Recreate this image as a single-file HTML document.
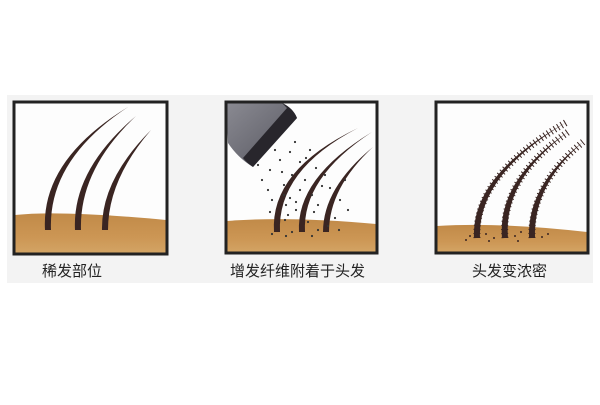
<!DOCTYPE html>
<html><head><meta charset="utf-8"><style>
body{margin:0;background:#fff;width:600px;height:400px;overflow:hidden}
</style></head><body>
<svg width="600" height="400" xmlns="http://www.w3.org/2000/svg">
<defs>
<linearGradient id="sk" x1="0" y1="0" x2="0" y2="1"><stop offset="0" stop-color="#c18a48"/><stop offset="0.6" stop-color="#cc9654"/><stop offset="1" stop-color="#d3a464"/></linearGradient>
<linearGradient id="can" x1="0" y1="0" x2="1" y2="1"><stop offset="0" stop-color="#8a8a92"/><stop offset="1" stop-color="#55555e"/></linearGradient>
</defs>
<rect x="7" y="95" width="586" height="188" fill="#f3f3f3"/>
<!-- panel 1 -->
<rect x="14" y="102" width="153" height="152" fill="#fdfdfd"/>
<path d="M15 215 Q60 210 166 220 L166 253 L15 253Z" fill="url(#sk)"/>
<g fill="#3a2522">
<path d="M45 230 Q41 160 128 107 Q48 160 51 230Z"/>
<path d="M75 230 Q72 170 136 116 Q79 170 81 230Z"/>
<path d="M102 230 Q101 180 151 130 Q108 180 108 230Z"/>
</g>
<rect x="14" y="102" width="153" height="152" fill="none" stroke="#222" stroke-width="3"/>
<!-- panel 2 -->
<rect x="226" y="102" width="151" height="151" fill="#fdfdfd"/>
<path d="M227 221 Q290 216 376 224 L376 252 L227 252Z" fill="url(#sk)"/>
<path d="M226 103 L282 103 Q293 108 297 118 L253 167 Q238 158 228 143Z" fill="url(#can)"/>
<path d="M282 103 Q293 108 297 118 L253 167 Q247 163 243 158 L287 108Z" fill="#28262c"/>
<g fill="#3a2522">
<path d="M274 232 Q270 170 358 128 Q277 170 280 232Z"/>
<path d="M299 232 Q296 178 372 132 Q302 178 305 232Z"/>
<path d="M323 232 Q323 188 373 147 Q329 188 329 232Z"/>
</g>
<g fill="#333">
<circle cx="262" cy="180" r="1.1"/><circle cx="270" cy="170" r="1.1"/><circle cx="280" cy="160" r="1.1"/><circle cx="290" cy="152" r="1.1"/><circle cx="300" cy="162" r="1.1"/><circle cx="310" cy="150" r="1.1"/><circle cx="268" cy="190" r="1.1"/><circle cx="284" cy="185" r="1.1"/><circle cx="292" cy="175" r="1.1"/><circle cx="305" cy="180" r="1.1"/><circle cx="316" cy="168" r="1.1"/><circle cx="272" cy="200" r="1.1"/><circle cx="286" cy="205" r="1.1"/><circle cx="290" cy="198" r="1.1"/><circle cx="296" cy="210" r="1.1"/><circle cx="312" cy="195" r="1.1"/><circle cx="318" cy="205" r="1.1"/><circle cx="330" cy="188" r="1.1"/><circle cx="340" cy="200" r="1.1"/><circle cx="285" cy="220" r="1.1"/><circle cx="308" cy="222" r="1.1"/><circle cx="318" cy="230" r="1.1"/><circle cx="335" cy="218" r="1.1"/><circle cx="275" cy="150" r="1.1"/><circle cx="295" cy="142" r="1.1"/><circle cx="288" cy="215" r="1.1"/><circle cx="300" cy="190" r="1.1"/><circle cx="325" cy="175" r="1.1"/><circle cx="270" cy="212" r="1.1"/><circle cx="345" cy="180" r="1.1"/>
<circle cx="282" cy="172" r="1.1"/><circle cx="296" cy="202" r="1.1"/><circle cx="314" cy="212" r="1.1"/><circle cx="328" cy="226" r="1.1"/><circle cx="272" cy="234" r="1.1"/><circle cx="292" cy="232" r="1.1"/><circle cx="339" cy="230" r="1.1"/><circle cx="348" cy="210" r="1.1"/><circle cx="306" cy="158" r="1.1"/><circle cx="322" cy="186" r="1.1"/><circle cx="258" cy="165" r="1.1"/><circle cx="284" cy="195" r="1.1"/><circle cx="312" cy="236" r="1.1"/><circle cx="286" cy="236" r="1.1"/>
</g>
<rect x="226" y="102" width="151" height="151" fill="none" stroke="#222" stroke-width="3"/>
<!-- panel 3 -->
<rect x="436" y="102" width="152" height="151" fill="#fdfdfd"/>
<path d="M437 226 Q500 222 587 232 L587 252 L437 252Z" fill="url(#sk)"/>
<g fill="none" stroke="#3a2522" stroke-linecap="butt" stroke-dasharray="1 3">
<path d="M477 238 Q474 175 567 122" stroke-width="7"/>
<path d="M505 238 Q500 180 568 132" stroke-width="7"/>
<path d="M532 238 Q530 185 583 142" stroke-width="7"/>
</g>
<g fill="#3a2522">
<path d="M474 238 Q471 175 567 122 Q477 175 480 238Z"/>
<path d="M502 238 Q497 180 568 132 Q503 180 508 238Z"/>
<path d="M529 238 Q527 185 583 142 Q533 185 535 238Z"/>
<circle cx="470" cy="236" r="1"/><circle cx="486" cy="234" r="1"/><circle cx="494" cy="238" r="1"/><circle cx="515" cy="236" r="1"/><circle cx="521" cy="232" r="1"/><circle cx="542" cy="237" r="1"/><circle cx="548" cy="234" r="1"/><circle cx="466" cy="240" r="1"/><circle cx="489" cy="241" r="1"/><circle cx="518" cy="241" r="1"/>
</g>
<rect x="436" y="102" width="152" height="151" fill="none" stroke="#222" stroke-width="3"/>
<g font-family="'Liberation Sans','Noto Sans CJK SC',sans-serif" font-size="15" fill="#222">
<text x="42" y="276">稀发部位</text>
<text x="230" y="276">增发纤维附着于头发</text>
<text x="472" y="276">头发变浓密</text>
</g>
</svg>
</body></html>
